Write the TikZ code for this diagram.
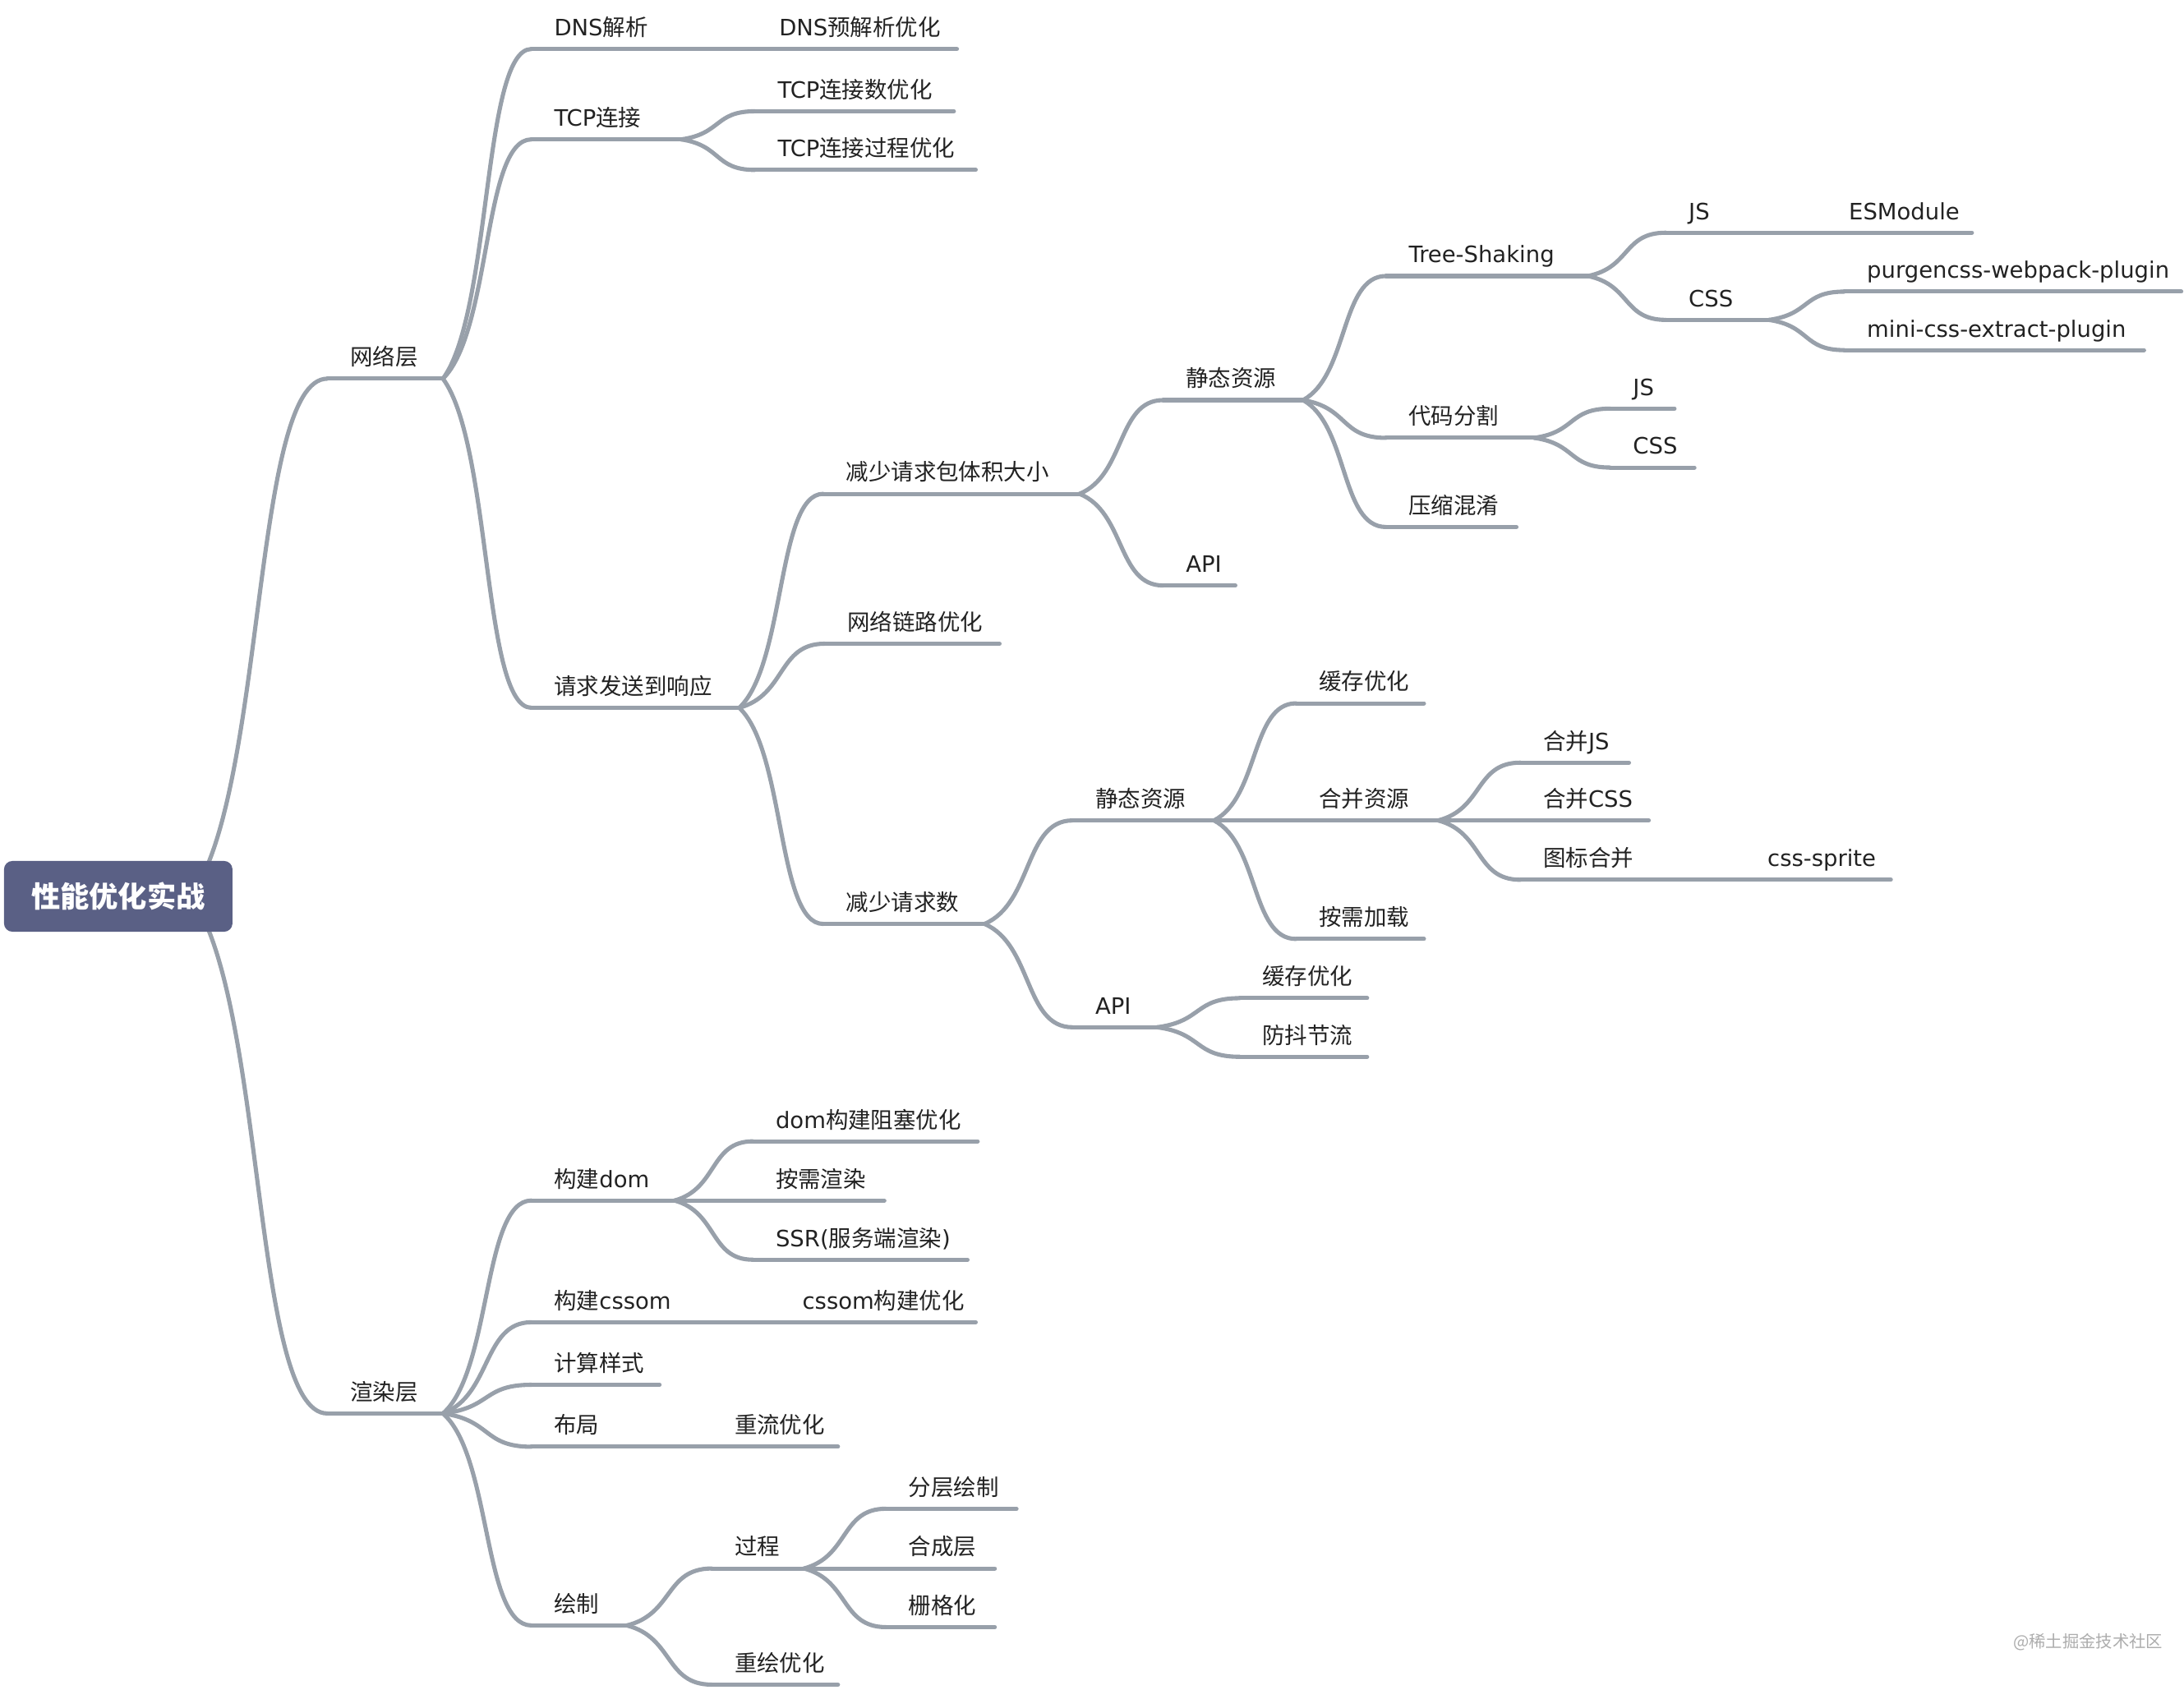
\documentclass[tikz,border=0pt]{standalone}
\usepackage{fontspec}
\setmainfont{DejaVu Sans}
\newfontfamily\cjkfont{Noto Sans CJK SC}
\usetikzlibrary{calc}
\newcommand\zh[1]{{\cjkfont #1}}
\definecolor{linecol}{HTML}{98A0AA}
\definecolor{rootcol}{HTML}{5A6085}
\definecolor{txtcol}{HTML}{222222}
\tikzset{
  line/.style={draw=linecol, line width=1.5pt, line cap=round},
  lbl/.style={anchor=base west, inner sep=0pt, text=txtcol, font=\fontsize{8.1pt}{9.6pt}\selectfont},
  rootbox/.style={fill=rootcol, rounded corners=3pt, minimum width=82pt, minimum height=25.4pt, inner sep=0pt, text=white, font=\fontsize{10.4pt}{12pt}\selectfont\cjkfont\bfseries},
  wm/.style={inner sep=0pt, text=black!32, font=\fontsize{6pt}{7pt}\selectfont\cjkfont}
}
% name, x start, x end, y, text
\newcommand\topic[5]{%
  \coordinate (#1-s) at (#2,#4);
  \coordinate (#1-e) at (#3,#4);
  \draw[line] (#1-s) -- (#1-e);
  \node[lbl] (#1) at (#2+16,#4-9.5) {#5};
}
\newcommand\conn[2]{%
  \draw[line] let \p1=(#1-e), \p2=(#2-s) in
    (\p1) .. controls ({\x1+0.55*(\x2-\x1)},{\y1+0.2*(\y2-\y1)}) and ({\x2-0.55*(\x2-\x1)},\y2) .. (\p2);
}
\begin{document}
\begin{tikzpicture}[x=0.5pt,y=-0.5pt]
\useasboundingbox (0,0) rectangle (1568,1213);
\fill[white] (0,0) rectangle (1568,1213);

% level 1
\topic{a}{235}{318}{271.9}{\zh{网络层}}
\topic{b}{235}{318}{1014.9}{\zh{渲染层}}

% 网络层
\topic{a1}{381.5}{485}{35.2}{DNS\zh{解析}}
\topic{a11}{543}{687}{35.2}{DNS\zh{预解析优化}}
\topic{a2}{381.5}{489}{100.1}{TCP\zh{连接}}
\topic{a21}{542}{684.8}{79.9}{TCP\zh{连接数优化}}
\topic{a22}{542}{700.5}{122}{TCP\zh{连接过程优化}}
\topic{a3}{381.5}{530.7}{508.2}{\zh{请求发送到响应}}
\topic{a31}{591}{775}{354.6}{\zh{减少请求包体积大小}}
\topic{a311}{835}{935.5}{287.3}{\zh{静态资源}}
\topic{a3111}{995}{1140}{198.2}{Tree-Shaking}
\topic{a31111}{1196}{1240}{167.1}{JS}
\topic{a311111}{1311}{1415.7}{167.1}{ESModule}
\topic{a31112}{1196}{1270}{229.7}{CSS}
\topic{a311121}{1324}{1566}{209.4}{purgencss-webpack-plugin}
\topic{a311122}{1324}{1539.3}{251.4}{mini-css-extract-plugin}
\topic{a3112}{995}{1101.5}{314.4}{\zh{代码分割}}
\topic{a31121}{1156}{1202.2}{293.4}{JS}
\topic{a31122}{1156}{1216.5}{335.7}{CSS}
\topic{a3113}{995}{1088.7}{378.4}{\zh{压缩混淆}}
\topic{a312}{835}{886.9}{420.4}{API}
\topic{a32}{592}{717.6}{462.2}{\zh{网络链路优化}}
\topic{a33}{591}{706.8}{663.4}{\zh{减少请求数}}
\topic{a331}{770}{871.6}{589.1}{\zh{静态资源}}
\topic{a3311}{930.5}{1022.3}{505}{\zh{缓存优化}}
\topic{a3312}{930.5}{1032.5}{589.1}{\zh{合并资源}}
\topic{a33121}{1091.5}{1169.5}{547.6}{\zh{合并}JS}
\topic{a33122}{1091.5}{1183.7}{589.1}{\zh{合并}CSS}
\topic{a33123}{1091.5}{1195}{631.7}{\zh{图标合并}}
\topic{a331231}{1252.6}{1357.5}{631.7}{css-sprite}
\topic{a3313}{930.5}{1022.3}{674.2}{\zh{按需加载}}
\topic{a332}{770}{830.7}{737.6}{API}
\topic{a3321}{890}{981.5}{716.7}{\zh{缓存优化}}
\topic{a3322}{890}{981.5}{758.8}{\zh{防抖节流}}

% 渲染层
\topic{b1}{381.5}{484.3}{862}{\zh{构建}dom}
\topic{b11}{540.5}{701.9}{819.5}{dom\zh{构建阻塞优化}}
\topic{b12}{540.5}{634.9}{862}{\zh{按需渲染}}
\topic{b13}{540.5}{694.6}{904.5}{SSR(\zh{服务端渲染})}
\topic{b2}{381.5}{500}{949.4}{\zh{构建}cssom}
\topic{b21}{559.7}{700.5}{949.4}{cssom\zh{构建优化}}
\topic{b3}{381.5}{473.5}{994.3}{\zh{计算样式}}
\topic{b4}{381.5}{455}{1038.8}{\zh{布局}}
\topic{b41}{511}{601.6}{1038.8}{\zh{重流优化}}
\topic{b5}{381.5}{450}{1167.1}{\zh{绘制}}
\topic{b51}{511}{577.2}{1126.2}{\zh{过程}}
\topic{b511}{636}{729.8}{1083.3}{\zh{分层绘制}}
\topic{b512}{636}{714.2}{1126.2}{\zh{合成层}}
\topic{b513}{636}{714.2}{1168.3}{\zh{栅格化}}
\topic{b52}{511}{601.6}{1209.6}{\zh{重绘优化}}

% connectors
\coordinate (root-e) at (137,643.6);
\conn{root}{a}
\conn{root}{b}
\conn{a}{a1}
\conn{a}{a2}
\conn{a}{a3}
\conn{a1}{a11}
\conn{a2}{a21}
\conn{a2}{a22}
\conn{a3}{a31}
\conn{a3}{a32}
\conn{a3}{a33}
\conn{a31}{a311}
\conn{a31}{a312}
\conn{a311}{a3111}
\conn{a311}{a3112}
\conn{a311}{a3113}
\conn{a3111}{a31111}
\conn{a3111}{a31112}
\conn{a31111}{a311111}
\conn{a31112}{a311121}
\conn{a31112}{a311122}
\conn{a3112}{a31121}
\conn{a3112}{a31122}
\conn{a33}{a331}
\conn{a33}{a332}
\conn{a331}{a3311}
\conn{a331}{a3312}
\conn{a331}{a3313}
\conn{a3312}{a33121}
\conn{a3312}{a33122}
\conn{a3312}{a33123}
\conn{a33123}{a331231}
\conn{a332}{a3321}
\conn{a332}{a3322}
\conn{b}{b1}
\conn{b}{b2}
\conn{b}{b3}
\conn{b}{b4}
\conn{b}{b5}
\conn{b1}{b11}
\conn{b1}{b12}
\conn{b1}{b13}
\conn{b2}{b21}
\conn{b4}{b41}
\conn{b5}{b51}
\conn{b5}{b52}
\conn{b51}{b511}
\conn{b51}{b512}
\conn{b51}{b513}

% root
\node[rootbox] (root) at (84.9,643.6) {性能优化实战};

% watermark
\node[wm, anchor=west] (wmark) at (1445,1179) {@稀土掘金技术社区};
\end{tikzpicture}
\end{document}
